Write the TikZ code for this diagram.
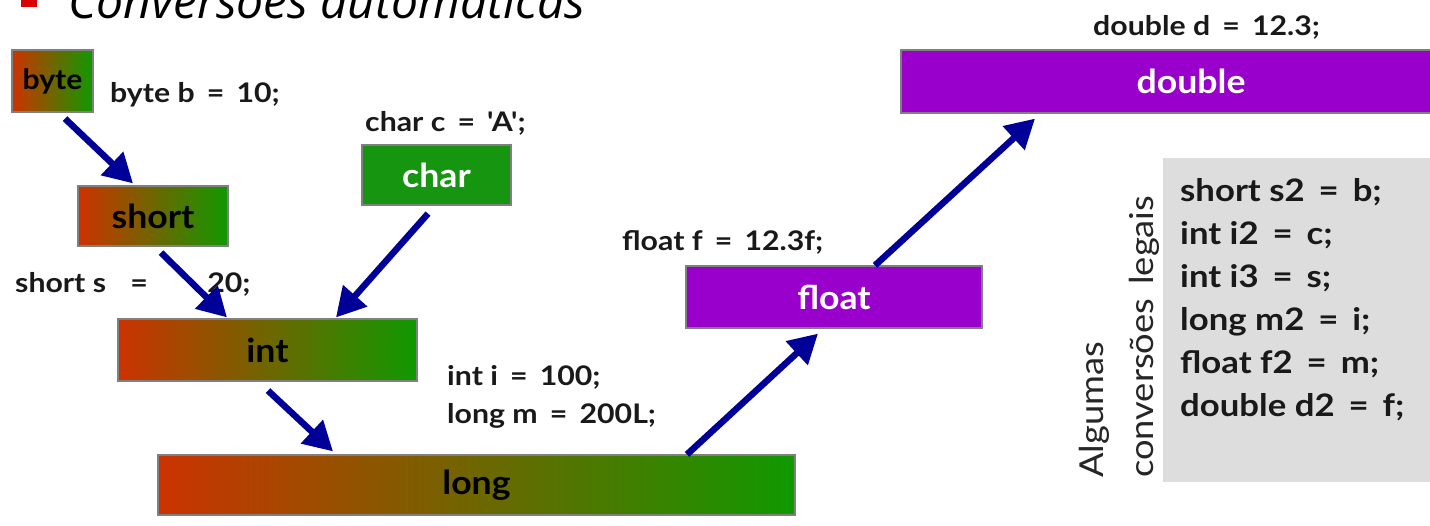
\documentclass[tikz,border=0pt]{standalone}
\usepackage{fontspec}
\setmainfont{Lato}
\newfontfamily\titlefont{Open Sans}
\newfontfamily\lblfont[Ligatures=TeXOff, FakeStretch=1.12]{Lato}
\newfontfamily\sidefont[FakeStretch=1.1, WordSpace=1.5]{Lato}
\newfontfamily\boxfont[FakeStretch=1.08]{Lato}
\newcommand\Eq{\hspace{0.45em}=\hspace{0.45em}}
\usetikzlibrary{arrows.meta,calc}
\definecolor{gred}{RGB}{204,51,0}
\definecolor{ggreen}{RGB}{16,153,0}
\definecolor{cgreen}{RGB}{22,150,16}
\definecolor{purp}{RGB}{153,0,204}
\definecolor{arrblue}{RGB}{0,0,153}
\definecolor{boxline}{RGB}{128,128,128}
\definecolor{codegray}{RGB}{221,221,221}
\tikzset{
  gbox/.style={draw=boxline, line width=1.2pt, left color=gred, right color=ggreen,
    text=black, font=\boxfont\bfseries\fontsize{33}{33}\selectfont, inner sep=0pt},
  sbox/.style={draw=boxline, line width=1.2pt, fill=#1, text=white,
    font=\boxfont\bfseries\fontsize{33}{33}\selectfont, inner sep=0pt},
  lbl/.style={font=\lblfont\bfseries\fontsize{27}{27}\selectfont, inner sep=0pt, anchor=base west, text=black!90},
  codeln/.style={font=\lblfont\bfseries\fontsize{31}{31}\selectfont, inner sep=0pt, anchor=base west, text=black!90},
  side/.style={font=\sidefont\fontsize{33}{33}\selectfont, inner sep=0pt, anchor=base west, rotate=90, text=black!85},
  arr/.style={draw=arrblue, line width=6.5pt, -{Triangle[length=29pt,width=31pt]}},
}
\begin{document}
\begin{tikzpicture}[x=1pt,y=-1pt]
\useasboundingbox (0,0) rectangle (1430,525);
\fill[white] (0,0) rectangle (1430,525);
% title
\fill[red!85!black] (21,-9) rectangle (37,7);
\node[font=\titlefont\itshape\fontsize{48}{48}\selectfont, inner sep=0pt, anchor=base west] (title) at (68,18) {Conversões automáticas};
% boxes
\node[gbox, minimum width=81pt, minimum height=62pt, font=\boxfont\bfseries\fontsize{28}{28}\selectfont] (byte) at (52.5,81) {byte};
\node[gbox, minimum width=150pt, minimum height=60pt] (short) at (153,216) {short};
\node[sbox=cgreen, minimum width=149pt, minimum height=60pt] (char) at (436.5,175) {char};
\node[gbox, minimum width=299pt, minimum height=62pt] (int) at (267.5,350) {int};
\node[gbox, minimum width=637pt, minimum height=60pt] (long) at (476.5,485) {long};
\node[sbox=purp, minimum width=296pt, minimum height=62pt] (float) at (834,297) {float};
\node[sbox=purp, minimum width=580pt, minimum height=63pt] (double) at (1191,81.5) {double};
\node[fill=codegray, minimum width=290pt, minimum height=324pt, inner sep=0pt] (code) at (1308,320) {};
% labels
\node[lbl] (lb) at (110,102) {byte b\Eq{}10;};
\node[lbl] (lc) at (365,131) {char c\Eq{}'A';};
\node[lbl] (ls) at (15,292) {short s\hspace{0.9em}=\hspace{2.2em}20;};
\node[lbl] (lf) at (622,250) {float f\Eq{}12.3f;};
\node[lbl] (ld) at (1093,35) {double d\Eq{}12.3;};
\node[lbl] (li) at (447,385) {int i\Eq{}100;};
\node[lbl] (lm) at (447,423) {long m\Eq{}200L;};
% code lines
\node[codeln] (c1) at (1180,201) {short s2\Eq{}b;};
\node[codeln] (c2) at (1180,244) {int i2\Eq{}c;};
\node[codeln] (c3) at (1180,287) {int i3\Eq{}s;};
\node[codeln] (c4) at (1180,330) {long m2\Eq{}i;};
\node[codeln] (c5) at (1180,373) {float f2\Eq{}m;};
\node[codeln] (c6) at (1180,416) {double d2\Eq{}f;};
\node[side] (s1) at (1103,478) {Algumas};
\node[side] (s2) at (1153,478) {conversões legais};
% arrows
\draw[arr] ([xshift=12.5pt,yshift=-6pt]byte.south) -- ([xshift=-20pt,yshift=2pt]short.north);
\draw[arr] ([xshift=8pt,yshift=-6pt]short.south) -- ([xshift=-40.5pt,yshift=1pt]int.north);
\draw[arr] ([xshift=-8.5pt,yshift=-8pt]char.south) -- ([xshift=68.5pt,yshift=1pt]int.north);
\draw[arr] ([xshift=0.5pt,yshift=-9pt]int.south) -- ([xshift=-143.5pt,yshift=3pt]long.north);
\draw[arr] ([xshift=210.5pt]long.north) -- ([xshift=-16pt,yshift=-5pt]float.south);
\draw[arr] ([xshift=41pt]float.north) -- ([xshift=-156pt,yshift=-5pt]double.south);
\end{tikzpicture}
\end{document}
